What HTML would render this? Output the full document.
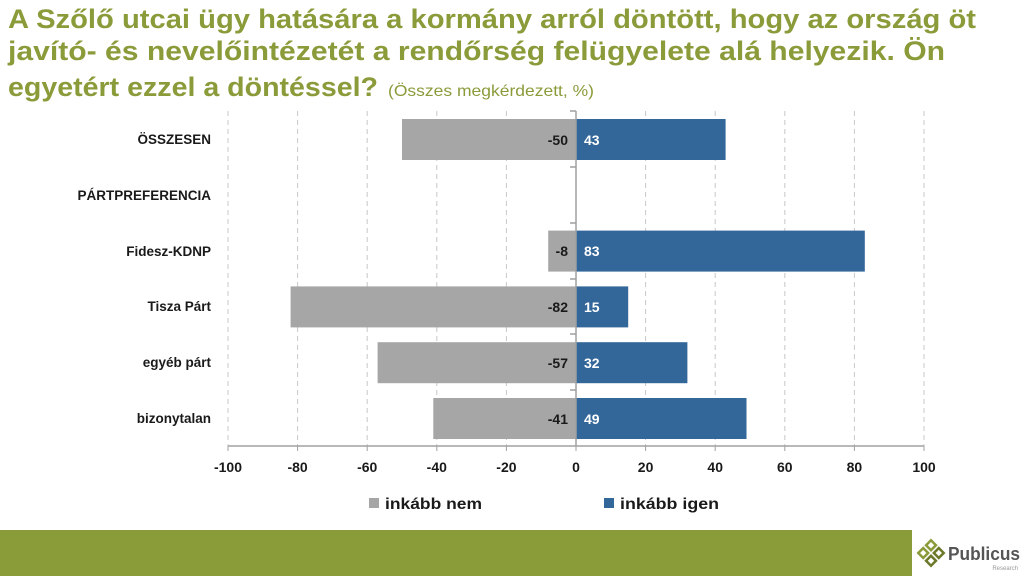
<!DOCTYPE html>
<html><head><meta charset="utf-8"><style>
body{margin:0;width:1024px;height:576px;overflow:hidden;background:#fff;font-family:"Liberation Sans",sans-serif;}
</style></head><body>
<svg width="1024" height="576" xmlns="http://www.w3.org/2000/svg" font-family="Liberation Sans, sans-serif">
<g font-weight="bold" font-size="27" fill="#8a9b3a">
<text x="8" y="28" textLength="968" lengthAdjust="spacingAndGlyphs">A Szőlő utcai ügy hatására a kormány arról döntött, hogy az ország öt</text>
<text x="8" y="60" textLength="937" lengthAdjust="spacingAndGlyphs">javító- és nevelőintézetét a rendőrség felügyelete alá helyezik. Ön</text>
<text x="8" y="96" textLength="370" lengthAdjust="spacingAndGlyphs">egyetért ezzel a döntéssel?</text>
</g>
<text x="388" y="96" font-size="16" fill="#8a9b3a" textLength="206" lengthAdjust="spacingAndGlyphs">(Összes megkérdezett, %)</text>
<g stroke="#c8c8c8" stroke-dasharray="5,4" stroke-width="1">
<line x1="228" y1="111" x2="228" y2="446"/><line x1="297.6" y1="111" x2="297.6" y2="446"/>
<line x1="367.2" y1="111" x2="367.2" y2="446"/><line x1="436.8" y1="111" x2="436.8" y2="446"/>
<line x1="506.4" y1="111" x2="506.4" y2="446"/><line x1="645.6" y1="111" x2="645.6" y2="446"/>
<line x1="715.2" y1="111" x2="715.2" y2="446"/><line x1="784.8" y1="111" x2="784.8" y2="446"/>
<line x1="854.4" y1="111" x2="854.4" y2="446"/><line x1="924" y1="111" x2="924" y2="446"/>
</g>
<g fill="#a6a6a6">
<rect x="402" y="119" width="174" height="41"/>
<rect x="548.2" y="230.6" width="27.8" height="41"/>
<rect x="290.6" y="286.4" width="285.4" height="41"/>
<rect x="377.6" y="342.2" width="198.4" height="41"/>
<rect x="433.3" y="398" width="142.7" height="41"/>
</g>
<g fill="#336699">
<rect x="576" y="119" width="149.6" height="41"/>
<rect x="576" y="230.6" width="288.8" height="41"/>
<rect x="576" y="286.4" width="52.2" height="41"/>
<rect x="576" y="342.2" width="111.4" height="41"/>
<rect x="576" y="398" width="170.5" height="41"/>
</g>
<g stroke="#a0a0a0" stroke-width="1.5">
<line x1="576" y1="111" x2="576" y2="446"/>
<line x1="228" y1="446" x2="924" y2="446"/>
<line x1="570" y1="111" x2="576" y2="111"/><line x1="570" y1="167" x2="576" y2="167"/>
<line x1="570" y1="223" x2="576" y2="223"/><line x1="570" y1="279" x2="576" y2="279"/>
<line x1="570" y1="334" x2="576" y2="334"/><line x1="570" y1="390" x2="576" y2="390"/>
</g>
<g stroke="#a0a0a0" stroke-width="1">
<line x1="228" y1="446" x2="228" y2="451"/><line x1="297.6" y1="446" x2="297.6" y2="451"/><line x1="367.2" y1="446" x2="367.2" y2="451"/><line x1="436.8" y1="446" x2="436.8" y2="451"/><line x1="506.4" y1="446" x2="506.4" y2="451"/><line x1="576" y1="446" x2="576" y2="451"/><line x1="645.6" y1="446" x2="645.6" y2="451"/><line x1="715.2" y1="446" x2="715.2" y2="451"/><line x1="784.8" y1="446" x2="784.8" y2="451"/><line x1="854.4" y1="446" x2="854.4" y2="451"/><line x1="924" y1="446" x2="924" y2="451"/>
</g>
<g font-size="14" font-weight="bold" fill="#1a1a1a" text-anchor="end">
<text x="568" y="145">-50</text><text x="568" y="256">-8</text><text x="568" y="312">-82</text><text x="568" y="368">-57</text><text x="568" y="424">-41</text>
</g>
<g font-size="14" font-weight="bold" fill="#fff">
<text x="584" y="145">43</text><text x="584" y="256">83</text><text x="584" y="312">15</text><text x="584" y="368">32</text><text x="584" y="424">49</text>
</g>
<g font-size="13.5" font-weight="bold" fill="#1a1a1a" text-anchor="end">
<text x="211" y="144">ÖSSZESEN</text><text x="211" y="200">PÁRTPREFERENCIA</text><text x="211" y="256">Fidesz-KDNP</text><text x="211" y="311">Tisza Párt</text><text x="211" y="367">egyéb párt</text><text x="211" y="423">bizonytalan</text>
</g>
<g font-size="14" font-weight="bold" fill="#1a1a1a" text-anchor="middle">
<text x="228" y="472">-100</text><text x="297.6" y="472">-80</text><text x="367.2" y="472">-60</text><text x="436.8" y="472">-40</text><text x="506.4" y="472">-20</text><text x="576" y="472">0</text><text x="645.6" y="472">20</text><text x="715.2" y="472">40</text><text x="784.8" y="472">60</text><text x="854.4" y="472">80</text><text x="924" y="472">100</text>
</g>
<rect x="369" y="498" width="10" height="10" fill="#a6a6a6"/>
<text x="385" y="509" font-size="16" font-weight="bold" fill="#1a1a1a" textLength="97" lengthAdjust="spacingAndGlyphs">inkább nem</text>
<rect x="604" y="498" width="10" height="10" fill="#336699"/>
<text x="620" y="509" font-size="16" font-weight="bold" fill="#1a1a1a" textLength="99" lengthAdjust="spacingAndGlyphs">inkább igen</text>
<rect x="0" y="530" width="912" height="46" fill="#8a9b3a"/>
<g transform="translate(931,553) rotate(45)">
<rect x="-9" y="-9" width="7" height="7" fill="none" stroke="#8a9b3a" stroke-width="2.5"/>
<rect x="2" y="-9" width="7" height="7" fill="none" stroke="#6b7a2a" stroke-width="2.5"/>
<rect x="-9" y="2" width="7" height="7" fill="none" stroke="#8a9b3a" stroke-width="2.5"/>
<rect x="2" y="2" width="7" height="7" fill="none" stroke="#6b7a2a" stroke-width="2.5"/>
</g>
<text x="948" y="560" font-size="18" font-weight="bold" fill="#555" textLength="72" lengthAdjust="spacingAndGlyphs">Publicus</text>
<text x="1018" y="570" font-size="6" fill="#999" text-anchor="end">Research</text>
</svg>
</body></html>
